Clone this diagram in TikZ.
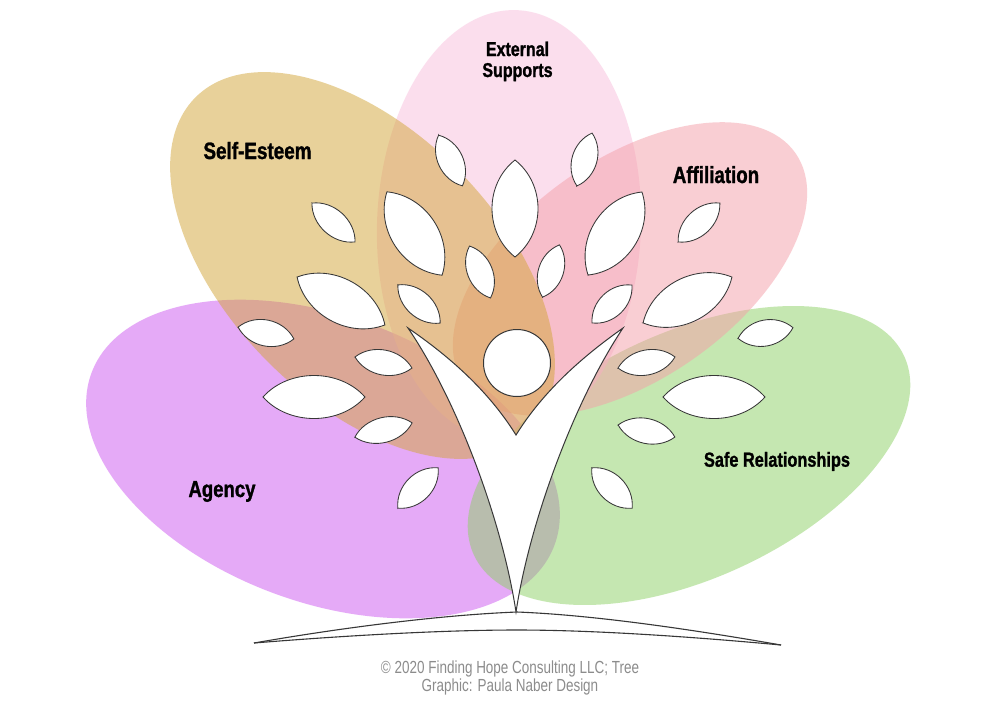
\documentclass[tikz,border=0pt]{standalone}
\usepackage{fontspec}
\newfontfamily\labelfont{Liberation Sans}[FakeStretch=0.80, BoldFeatures={FakeBold=1.2}]
\newfontfamily\notefont{Liberation Sans}[FakeStretch=0.77]
\definecolor{agency}{RGB}{205,87,240}
\definecolor{safe}{RGB}{141,209,101}
\definecolor{selfest}{RGB}{211,165,55}
\definecolor{external}{RGB}{249,191,221}
\definecolor{affil}{RGB}{245,159,169}
\definecolor{outline}{RGB}{55,55,55}
\definecolor{notegray}{RGB}{140,140,140}
\tikzset{
  petal/.style={fill opacity=0.5},
  leafline/.style={draw=outline, fill=white, line width=0.85pt, line join=miter},
  treeline/.style={draw=outline, fill=white, line width=1pt, line join=miter},
  groundline/.style={draw=outline, line width=1.1pt},
  lab/.style={inner sep=0pt, anchor=base, text=black},
  note/.style={inner sep=0pt, anchor=base, text=notegray, font=\notefont\fontsize{17.5}{20}\selectfont}
}
\newcommand{\leafat}[5]{%
  \begin{scope}[shift={(#1,#2)},rotate=#4]
    \draw[leafline] (-#3/2,0) .. controls (-#3/4,#5/0.75) and (#3/4,#5/0.75) .. (#3/2,0)
      .. controls (#3/4,-#5/0.75) and (-#3/4,-#5/0.75) .. cycle;
  \end{scope}}
\begin{document}
\begin{tikzpicture}[x=1pt,y=-1pt]
\useasboundingbox (0,0) rectangle (1000,726);
\fill[white] (0,0) rectangle (1000,726);
% petals
\fill[agency, petal, shift={(323,459)}, rotate=-20.4] (0,0) ellipse [x radius=247, y radius=143];
\fill[safe, petal, shift={(689,455.5)}, rotate=24.8] (0,0) ellipse [x radius=237, y radius=123];
\fill[external, petal, shift={(509,225)}, rotate=-2] (0,0) ellipse [x radius=132, y radius=215];
\fill[affil, petal, shift={(630,269)}, rotate=35] (0,0) ellipse [x radius=202, y radius=110];
\fill[selfest, petal, shift={(362.5,265.5)}, rotate=-45.3] (0,0) ellipse [x radius=237, y radius=135];
% labels
\node[lab, font=\labelfont\bfseries\fontsize{23.6}{26}\selectfont] (selfesteem) at (257.5,159) {Self-Esteem};
\node[lab, font=\labelfont\bfseries\fontsize{23.4}{26}\selectfont] (affiliation) at (716,183) {Affiliation};
\node[lab, font=\labelfont\bfseries\fontsize{23.2}{26}\selectfont] (agency) at (222,497) {Agency};
\node[lab, font=\labelfont\bfseries\fontsize{20.4}{24}\selectfont] (saferel) at (777,466.7) {Safe Relationships};
\node[lab, font=\labelfont\bfseries\fontsize{20}{24}\selectfont] (external1) at (517.5,56) {External};
\node[lab, font=\labelfont\bfseries\fontsize{20}{24}\selectfont] (external2) at (517.5,77) {Supports};
% tree body
\coordinate (ltip) at (408,328);
\coordinate (crotch) at (516,435);
\coordinate (rtip) at (623,328);
\coordinate (foot) at (516,612);
\path[treeline] (ltip) .. controls (440,350) and (485,385) .. (crotch)
  .. controls (547,385) and (592,350) .. (rtip)
  .. controls (575,400) and (530,520) .. (foot)
  .. controls (502,520) and (457,400) .. (ltip) -- cycle;
\node[circle, draw=outline, fill=white, line width=1pt, minimum size=67pt, inner sep=0pt] (head) at (517,363) {};
% leaves
\leafat{450.5}{160.5}{56}{-64.8}{12.5}
\leafat{515}{208.5}{97}{90}{23}
\leafat{584.5}{159.5}{55}{74}{12.5}
\leafat{414.5}{233.5}{100}{-56.5}{23}
\leafat{615}{233.5}{99}{57}{23}
\leafat{333.5}{222.5}{58}{-42}{12.5}
\leafat{699}{222.5}{57}{43}{12.5}
\leafat{480}{272}{56}{-68}{12.5}
\leafat{551}{271}{55}{72}{12.5}
\leafat{341}{301}{100}{-28.6}{22}
\leafat{687.5}{300}{100}{27.3}{22}
\leafat{419}{304}{57}{-42}{12.5}
\leafat{612}{304}{55}{43.5}{12.5}
\leafat{266}{333}{57}{-12}{13}
\leafat{765.5}{333}{56}{11}{13}
\leafat{383.5}{362.5}{58}{-11}{12.5}
\leafat{646.5}{362.5}{58}{11}{12.5}
\leafat{314}{397}{102}{0}{21.5}
\leafat{714}{397}{102}{0}{21.5}
\leafat{383.5}{430}{59}{14}{12.5}
\leafat{646.5}{431}{58}{-12}{12.5}
\leafat{418}{488}{57}{45}{13}
\leafat{612}{488}{57}{-45}{13}
% ground
\coordinate (gl) at (254,643);
\coordinate (gr) at (781,645);
\coordinate (gtop) at (517,612);
\coordinate (gbot) at (517,630);
\draw[groundline] (gl) .. controls (340,628) and (440,615) .. (gtop)
  .. controls (595,615) and (695,630) .. (gr);
\draw[groundline] (gl) .. controls (340,636) and (440,630) .. (gbot)
  .. controls (595,630) and (695,637) .. (gr);
% credits
\node[note] (credit1) at (510,673) {© 2020 Finding Hope Consulting LLC; Tree};
\node[note] (credit2) at (510,691) {Graphic: Paula Naber Design};
\end{tikzpicture}
\end{document}
